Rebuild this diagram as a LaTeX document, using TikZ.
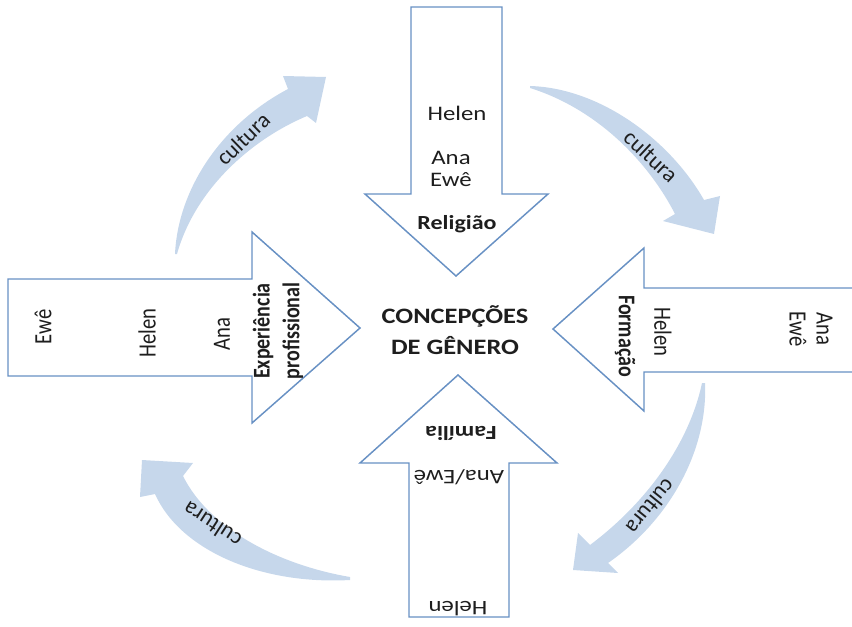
\documentclass[tikz,border=0pt]{standalone}
\usepackage{fontspec}
\setmainfont{Carlito}
\definecolor{arrowblue}{RGB}{104,145,196}
\definecolor{cultblue}{RGB}{198,215,235}
\definecolor{txt}{RGB}{30,30,30}
\begin{document}
\begin{tikzpicture}[x=0.75pt,y=-0.75pt,
  blk/.style={draw=arrowblue, line width=1.1pt, fill=white, line join=miter},
  cult/.style={fill=cultblue},
  lbl/.style={xscale=1.2, inner sep=0pt, align=center, text=txt,
    font=\fontsize{15.5}{17}\selectfont},
  blbl/.style={lbl, font=\fontsize{15}{18.5}\selectfont\bfseries},
  clbl/.style={inner sep=0pt, text=txt, font=\fontsize{17}{19}\selectfont},
  ]
\useasboundingbox (0,0) rectangle (852,627);

% block arrows
\draw[blk] (411,7) -- (502,7) -- (502,194) -- (548,194) -- (456,276) -- (365,194) -- (411,194) -- cycle;
\draw[blk] (8,279) -- (252,279) -- (252,232) -- (360,328) -- (252,423) -- (252,376) -- (8,376) -- cycle;
\fill[white] (853,288) -- (644,288) -- (644,248) -- (553,329) -- (644,411) -- (644,372) -- (853,372) -- cycle;
\draw[blk] (853,288) -- (644,288) -- (644,248) -- (553,329) -- (644,411) -- (644,372) -- (853,372);
\draw[blk] (409,617) -- (409,463) -- (360,463) -- (458,375) -- (557,463) -- (509,463) -- (509,617) -- cycle;

% curved "cultura" arrows
\fill[cult] (175,254) .. controls (178,190) and (220,125) .. (288,89) -- (283,76) -- (326,77) -- (316,123) -- (307,116) .. controls (250,140) and (195,190) .. (177,254) -- cycle;
\fill[cult] (530,86) .. controls (600,88) and (670,140) .. (704,200) -- (720,196) -- (714,234) -- (663,221) -- (675,214) .. controls (650,165) and (600,110) .. (530,88) -- cycle;
\fill[cult] (705,383) .. controls (708,450) and (670,520) .. (608,563) -- (618,573) -- (573,570) -- (578,533) -- (590,545) .. controls (650,500) and (690,440) .. (702,383) -- cycle;
\fill[cult] (350,577) .. controls (280,565) and (210,530) .. (183,476) -- (193,463) -- (142,460) -- (140,497) -- (155,494) .. controls (180,550) and (260,585) .. (350,580) -- cycle;

\node[clbl, rotate=44] (c1) at (243,139) {cultura};
\node[clbl, rotate=-43] (c2) at (651,156) {cultura};
\node[clbl, rotate=231] (c3) at (651,507) {cultura};
\node[clbl, rotate=147] (c4) at (212,525) {cultura};

% top arrow texts
\node[lbl] (th) at (457,113) {Helen};
\node[lbl] (tae) at (451,169) {Ana\\Ewê};
\node[blbl] (tr) at (457,224) {Religião};

% left arrow texts
\node[lbl, rotate=90] (le) at (43,327) {Ewê};
\node[lbl, rotate=90] (lh) at (147,333) {Helen};
\node[lbl, rotate=90] (la) at (222,334) {Ana};
\node[blbl, rotate=90] (lx) at (278,331) {Experiência\\profissional};

% right arrow texts
\node[blbl, rotate=-90] (rf) at (625,336) {Formação};
\node[lbl, rotate=-90] (rh) at (663,332) {Helen};
\node[lbl, rotate=-90] (rae) at (811,329) {Ana\\Ewê};

% bottom arrow texts
\node[blbl, rotate=180] (bf) at (461,433) {Família};
\node[lbl, rotate=180] (bae) at (459,477) {Ana/Ewê};
\node[lbl, rotate=180] (bh) at (458,609) {Helen};

% centre
\node[lbl, font=\fontsize{16.5}{23}\selectfont\bfseries] (ctr) at (455,330) {CONCEPÇÕES\\DE GÊNERO};
\end{tikzpicture}
\end{document}
